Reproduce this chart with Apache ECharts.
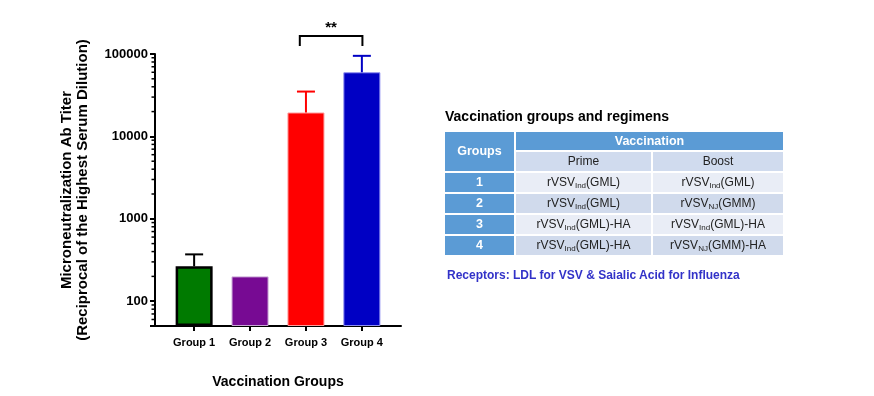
<!DOCTYPE html>
<html>
<head>
<meta charset="utf-8">
<script src="https://cdn.jsdelivr.net/npm/echarts@6/dist/echarts.min.js"></script>
<style>
  html, body { margin:0; padding:0; background:#fff; }
  #wrap { position:relative; width:874px; height:396px; overflow:hidden; font-family: Arial, "Liberation Sans", sans-serif; }
  #chart { position:absolute; left:0; top:0; width:874px; height:396px; }
  #ttl { position:absolute; left:445px; top:108px; font-size:14px; font-weight:bold; color:#000; white-space:nowrap; }
  #tbl { position:absolute; left:443px; top:130px; border-collapse:collapse; font-size:12px; color:#222; }
  #tbl td { border:2px solid #fff; text-align:center; padding:0; height:19px; line-height:19px; white-space:nowrap; }
  #tbl td.hd { background:#5B9BD5; color:#fff; font-weight:bold; font-size:12.5px; }
  #tbl tr.sub td.s { background:#D0DBEE; }
  #tbl tr.odd td.c { background:#E9EDF6; }
  #tbl tr.even td.c { background:#D0DAEC; }
  #tbl sub { font-size:8px; vertical-align:-2px; line-height:0; }
  #rec { position:absolute; left:447px; top:268px; font-size:12px; font-weight:bold; color:#3232C8; white-space:nowrap; }
</style>
</head>
<body>
<div id="wrap">
  <div id="chart"></div>
  <div id="ttl"></div>
  <table id="tbl"></table>
  <div id="rec"></div>
</div>
<script>
// ---- data ----
const categories = ['Group 1', 'Group 2', 'Group 3', 'Group 4'];
const meanTiter  = [265, 200, 19500, 60000];
const upperTiter = [370, null, 35000, 95000];
const barColors  = ['#007A00', '#770A93', '#FF0000', '#0000C4'];
const yTickLabels = [100, 1000, 10000, 100000];
const minorTickValues = [50,60,70,80,90, 200,300,400,500,600,700,800,900,
  2000,3000,4000,5000,6000,7000,8000,9000, 20000,30000,40000,50000,60000,70000,80000,90000];
const sigBracketX = [2.89, 4.01];
const sigLevel = 165000;
const sigLabel = '**';

const tableTitle = 'Vaccination  groups and regimens';
const tableGroups = ['1', '2', '3', '4'];
const tablePrime = [['rVSV','Ind','(GML)'], ['rVSV','Ind','(GML)'], ['rVSV','Ind','(GML)-HA'], ['rVSV','Ind','(GML)-HA']];
const tableBoost = [['rVSV','Ind','(GML)'], ['rVSV','NJ','(GMM)'], ['rVSV','Ind','(GML)-HA'], ['rVSV','NJ','(GMM)-HA']];
const receptorsNote = 'Receptors: LDL for VSV & Saialic Acid for Influenza';

// ---- table ----
document.getElementById('ttl').textContent = tableTitle;
document.getElementById('rec').textContent = receptorsNote;
const fmt = p => p[0] + '<sub>' + p[1] + '</sub>' + p[2];
let html = '<tr><td class="hd" rowspan="2" style="width:69px">Groups</td><td class="hd" colspan="2" style="height:18px;line-height:18px">Vaccination</td></tr>' +
  '<tr class="sub"><td class="s" style="width:135px">Prime</td><td class="s" style="width:130px">Boost</td></tr>';
tableGroups.forEach((g, i) => {
  html += '<tr class="' + (i % 2 === 0 ? 'odd' : 'even') + '"><td class="hd">' + g + '</td><td class="c">' + fmt(tablePrime[i]) + '</td><td class="c">' + fmt(tableBoost[i]) + '</td></tr>';
});
document.getElementById('tbl').innerHTML = html;

// ---- chart ----
const xMin = 0.3, xMax = 4.7;
const font = 'Arial, "Liberation Sans", sans-serif';
const xs = categories.map((c, i) => i + 1);
const barData = meanTiter.map((v, i) => ({
  value: [xs[i], v],
  itemStyle: {
    color: barColors[i],
    borderColor: i === 0 ? '#000' : (i === 1 ? '#C9A6D6' : (i === 2 ? '#FF9A9A' : '#8E8EF0')),
    borderWidth: i === 0 ? 2.5 : 1
  }
}));
const errData = [];
meanTiter.forEach((v, i) => { if (upperTiter[i] != null) errData.push([xs[i], v, upperTiter[i], i]); });
const errColors = ['#000', '#770A93', '#FF0000', '#0000C4'];

const chart = echarts.init(document.getElementById('chart'), null, { renderer: 'canvas' });
chart.setOption({
  animation: false,
  grid: { left: 155, right: 473, top: 54, bottom: 70, containLabel: false },
  xAxis: {
    type: 'value', min: xMin, max: xMax,
    name: 'Vaccination Groups', nameLocation: 'middle', nameGap: 49,
    nameTextStyle: { fontFamily: font, fontWeight: 'bold', fontSize: 14, color: '#000' },
    axisLine: { lineStyle: { color: '#000', width: 2 } },
    axisTick: { show: true, length: 5, lineStyle: { color: '#000', width: 2 }, customValues: xs },
    axisLabel: { customValues: xs, margin: 11, fontFamily: font, fontWeight: 'bold', fontSize: 11, color: '#000',
      formatter: v => categories[Math.round(v) - 1] || '' },
    splitLine: { show: false }
  },
  yAxis: {
    type: 'log', logBase: 10, min: 50, max: 100000, startValue: 50,
    name: 'Microneutralization Ab Titer\n(Reciprocal of the Highest Serum Dilution)',
    nameLocation: 'middle', nameRotate: 90, nameGap: 64,
    nameTextStyle: { fontFamily: font, fontWeight: 'bold', fontSize: 15, color: '#000', lineHeight: 16, align: 'center' },
    axisLine: { show: true, lineStyle: { color: '#000', width: 2 } },
    axisTick: { show: true, length: 5, lineStyle: { color: '#000', width: 2 } },
    axisLabel: { margin: 7, fontFamily: font, fontWeight: 'bold', fontSize: 13, color: '#000',
      formatter: v => (yTickLabels.indexOf(Math.round(v)) >= 0 ? String(Math.round(v)) : '') },
    splitLine: { show: false }
  },
  series: [
    { type: 'bar', data: barData, barWidth: 37, clip: true, z: 2 },
    {
      type: 'custom', data: errData, z: 3, clip: false,
      renderItem: (params, api) => {
        const p0 = api.coord([api.value(0), api.value(1)]);
        const p1 = api.coord([api.value(0), api.value(2)]);
        const c = errColors[api.value(3)];
        return { type: 'group', children: [
          { type: 'line', shape: { x1: p0[0], y1: p0[1], x2: p1[0], y2: p1[1] }, style: { stroke: c, lineWidth: 2 } },
          { type: 'line', shape: { x1: p1[0] - 9, y1: p1[1], x2: p1[0] + 9, y2: p1[1] }, style: { stroke: c, lineWidth: 2 } }
        ] };
      }
    },
    {
      type: 'custom', data: minorTickValues.map(v => [xMin, v]), z: 4, clip: false, silent: true,
      renderItem: (params, api) => {
        const p = api.coord([api.value(0), api.value(1)]);
        return { type: 'line', shape: { x1: p[0] - 3.5, y1: p[1], x2: p[0], y2: p[1] }, style: { stroke: '#000', lineWidth: 1.5 } };
      }
    },
    {
      type: 'custom', data: [[sigBracketX[0], sigBracketX[1], sigLevel]], z: 5, clip: false, silent: true,
      renderItem: (params, api) => {
        const a = api.coord([api.value(0), api.value(2)]);
        const b = api.coord([api.value(1), api.value(2)]);
        return { type: 'group', children: [
          { type: 'polyline', shape: { points: [[a[0], a[1] + 10], [a[0], a[1]], [b[0], b[1]], [b[0], b[1] + 10]] },
            style: { stroke: '#000', lineWidth: 2, fill: null } },
          { type: 'text', x: (a[0] + b[0]) / 2, y: a[1] - 8,
            style: { text: sigLabel, fontFamily: font, fontWeight: 'bold', fontSize: 15, fill: '#000', align: 'center', verticalAlign: 'middle' } }
        ] };
      }
    }
  ]
});
</script>
</body>
</html>
